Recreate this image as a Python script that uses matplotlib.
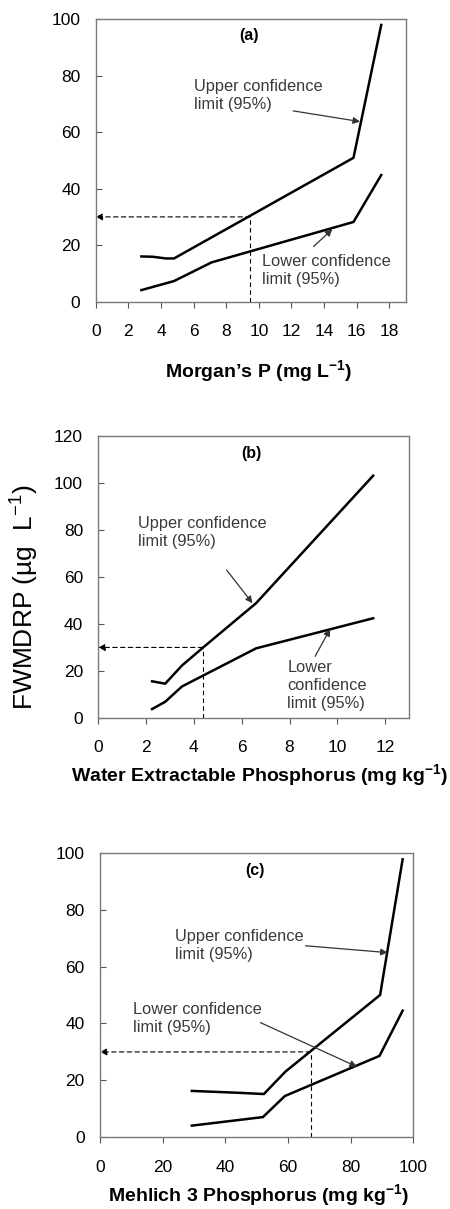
import matplotlib

matplotlib.use("Agg")
import matplotlib.pyplot as plt

plt.rcParams["font.family"] = ["Liberation Sans", "DejaVu Sans"]
plt.rcParams["mathtext.fontset"] = "custom"
plt.rcParams["mathtext.rm"] = "Liberation Sans"
plt.rcParams["mathtext.bf"] = "Liberation Sans:bold"

# (a) Morgan's P
morgan_x_upper = [2.8, 3.5, 4.3, 4.8, 15.8, 17.5]
morgan_upper = [16.0, 15.9, 15.3, 15.3, 50.9, 97.9]
morgan_x_lower = [2.8, 4.8, 7.1, 15.8, 17.5]
morgan_lower = [4.1, 7.3, 13.9, 28.2, 44.8]

# (b) water extractable P
wep_x_upper = [2.25, 2.8, 3.5, 4.4, 6.6, 11.5]
wep_upper = [15.6, 14.6, 22.3, 30.1, 48.8, 103.0]
wep_x_lower = [2.25, 2.8, 3.5, 6.6, 11.5]
wep_lower = [3.8, 6.9, 13.4, 29.6, 42.4]

# (c) Mehlich 3 P
m3_x_upper = [29.3, 45.0, 52.3, 59.2, 89.4, 96.6]
m3_upper = [16.3, 15.6, 15.2, 23.1, 50.0, 97.7]
m3_x_lower = [29.3, 52.0, 59.0, 89.2, 96.6]
m3_lower = [4.1, 7.1, 14.5, 28.6, 44.5]

target_drp = 30
thresholds = [9.47, 4.37, 67.2]

W, H = 450, 1209
fig = plt.figure(figsize=(W / 100, H / 100), dpi=100)


def px_axes(left, top, right, bottom):
    return fig.add_axes([left / W, 1 - bottom / H, (right - left) / W, (bottom - top) / H])


def style_axes(ax, xlim, xticks, ylim, yticks):
    ax.set_xlim(*xlim)
    ax.set_ylim(*ylim)
    ax.set_xticks(xticks)
    ax.set_yticks(yticks)
    for sp in ax.spines.values():
        sp.set_color("#7a7a7a")
        sp.set_linewidth(1.0)
    ax.tick_params(axis="x", direction="out", length=4, width=0.8, color="#555555",
                   labelsize=12.5, pad=12)
    ax.tick_params(axis="y", direction="in", length=4, width=0.8, color="#555555",
                   labelsize=12.5, pad=11)


def draw_curves(ax, xu, yu, xl, yl):
    ax.plot(xu, yu, color="black", lw=1.8, solid_joinstyle="miter")
    ax.plot(xl, yl, color="black", lw=1.8, solid_joinstyle="miter")


def draw_threshold(ax, x0):
    ax.plot([x0, x0], [0, target_drp], color="black", lw=0.8, ls=(0, (4, 3)))
    ax.annotate("", xy=(0, target_drp), xytext=(x0, target_drp),
                arrowprops=dict(arrowstyle="-|>", color="black", lw=0.8,
                                ls=(0, (4, 3)), mutation_scale=10,
                                shrinkA=0, shrinkB=0))


def label_arrow(ax, text, pos, start, end):
    ax.text(pos[0], pos[1], text, ha="left", va="center", fontsize=11.8,
            color="#3a3a3a", linespacing=1.25)
    ax.annotate("", xy=end, xytext=start,
                arrowprops=dict(arrowstyle="-|>", color="#333333", lw=0.9,
                                mutation_scale=10, shrinkA=0, shrinkB=0))


upper_txt = "Upper confidence\nlimit (95%)"
lower_txt = "Lower confidence\nlimit (95%)"

# panel (a)
ax_a = px_axes(95.7, 19, 405.7, 301.7)
style_axes(ax_a, (0, 19), range(0, 19, 2), (0, 100), range(0, 101, 20))
draw_curves(ax_a, morgan_x_upper, morgan_upper, morgan_x_lower, morgan_lower)
draw_threshold(ax_a, thresholds[0])
ax_a.text(9.37, 94.3, "(a)", ha="center", va="center", fontsize=11.5, fontweight="bold")
label_arrow(ax_a, upper_txt, (6.03, 73.1), (12.1, 67.5), (16.2, 63.7))
label_arrow(ax_a, lower_txt, (10.2, 11.0), (13.35, 19.5), (14.5, 25.6))
ax_a.set_xlabel("Morgan’s P (mg L$^{\\mathbf{-1}}$)", fontsize=14, fontweight="bold", va="center")
ax_a.xaxis.set_label_coords((259 - 95.7) / 310, (301.7 - 372) / 282.7)

# panel (b)
ax_b = px_axes(98.3, 435.7, 409, 718)
style_axes(ax_b, (0, 13), range(0, 13, 2), (0, 120), range(0, 121, 20))
draw_curves(ax_b, wep_x_upper, wep_upper, wep_x_lower, wep_lower)
draw_threshold(ax_b, thresholds[1])
ax_b.text(6.42, 112.4, "(b)", ha="center", va="center", fontsize=11.5, fontweight="bold")
label_arrow(ax_b, upper_txt, (1.67, 78.75), (5.37, 62.9), (6.45, 48.8))
label_arrow(ax_b, "Lower\nconfidence\nlimit (95%)", (7.91, 13.9), (9.07, 26.2), (9.7, 37.8))
ax_b.set_xlabel("Water Extractable Phosphorus (mg kg$^{\\mathbf{-1}}$)", fontsize=14,
                fontweight="bold", va="center")
ax_b.xaxis.set_label_coords((259.5 - 98.3) / 310.7, (718 - 776) / 282.3)

# panel (c)
ax_c = px_axes(100, 852.7, 413.3, 1137.3)
style_axes(ax_c, (0, 100), range(0, 101, 20), (0, 100), range(0, 101, 20))
draw_curves(ax_c, m3_x_upper, m3_upper, m3_x_lower, m3_lower)
draw_threshold(ax_c, thresholds[2])
ax_c.text(49.6, 93.9, "(c)", ha="center", va="center", fontsize=11.5, fontweight="bold")
label_arrow(ax_c, upper_txt, (24.0, 67.55), (65.6, 67.3), (91.8, 64.9))
label_arrow(ax_c, lower_txt, (10.4, 41.9), (51.2, 40.3), (82.0, 24.8))
ax_c.set_xlabel("Mehlich 3 Phosphorus (mg kg$^{\\mathbf{-1}}$)", fontsize=14,
                fontweight="bold", va="center")
ax_c.xaxis.set_label_coords((259 - 100) / 313.3, (1137.3 - 1196) / 284.6)

fig.text(24 / W, 1 - 597 / H, "FWMDRP (µg  L$^{-1}$)", rotation=90, ha="center",
         va="center", fontsize=19)

fig.savefig("out.png", dpi=100)
